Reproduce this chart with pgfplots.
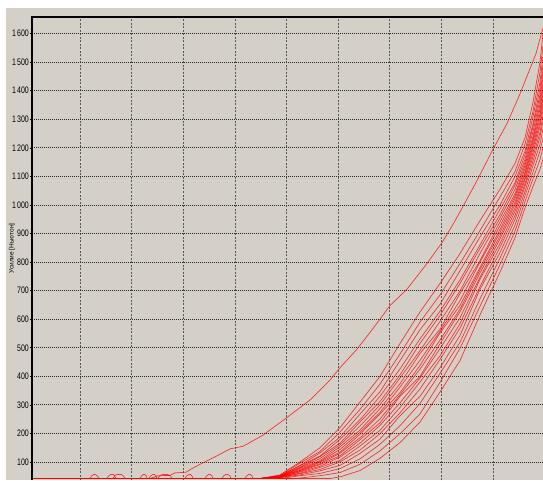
\documentclass[border=0pt]{standalone}
\usepackage{fontspec}
\setmainfont{Liberation Sans}
\usepackage{graphicx}
\usepackage{pgfplots}
\pgfplotsset{compat=1.18}
\definecolor{bg}{HTML}{D4D0C8}
\newcommand{\tl}[1]{\scalebox{1}[1.35]{#1}}
\pgfplotsset{crv/.style={draw=red, solid, line width=0.7pt, opacity=0.75, line join=round, mark=none}}
\begin{document}
\begin{tikzpicture}
\fill[white] (0,0) rectangle (543pt,480pt);
\fill[bg] (6pt,0) rectangle (543pt,472pt);
\path[use as bounding box] (0,0) rectangle (543pt,480pt);
\begin{axis}[
  name=ax,
  at={(32pt,0pt)}, anchor=south west,
  scale only axis, width=511pt, height=463pt,
  xmin=32, xmax=543, ymin=37, ymax=1658,
  axis line style={draw=none},
  xtick={80,131.6,183.3,234.9,286.5,338.1,389.8,441.4,493},
  xticklabels={},
  xtick style={draw=none},
  ytick={100,200,300,400,500,600,700,800,900,1000,1100,1200,1300,1400,1500,1600},
  yticklabels={\tl{100},\tl{200},\tl{300},\tl{400},\tl{500},\tl{600},\tl{700},\tl{800},\tl{900},\tl{1\,000},\tl{1\,100},\tl{1\,200},\tl{1\,300},\tl{1\,400},\tl{1\,500},\tl{1\,600}},
  ytick pos=left,
  ytick style={black, line width=0.6pt},
  tick align=outside, major tick length=2pt,
  yticklabel style={font=\fontsize{7}{8}\selectfont, inner sep=1pt},
  xmajorgrids, ymajorgrids,
  x grid style={black!65, line width=0.8pt, dash pattern=on 2pt off 1.5pt},
  y grid style={black!85, line width=0.8pt, dash pattern=on 1pt off 1pt},
  ylabel={Усилие [Ньютон]},
  ylabel style={at={(axis description cs:-0.0391,0.5)}, anchor=center, font=\fontsize{6.5}{7}\selectfont},
]
% outlier
\addplot[crv] coordinates {(32,42)(150,42)(158,52)(170,53)(175,62)(186,64)(190,73)(200,92)(215,118)(230,146)(243,155)(263,194)(287,256)(310,317)(330,387)(340,430)(357,495)(367,540)(380,600)(390,648)(407,705)(427,795)(442,868)(453,932)(463,995)(477,1085)(493,1195)(507,1285)(520,1389)(536,1530)(543,1620)};
% bundle
\addplot[crv] coordinates {(32,42)(90,42)(91.5,51)(93.5,56)(95.5,56)(97.5,51)(99,42)(260,42)(280,55)(300,100)(320,150)(340,220)(360,310)(380,400)(400,515)(420,625)(440,725)(460,830)(480,945)(500,1055)(515,1145)(525,1235)(533,1360)(540,1500)(543,1600)};
\addplot[crv] coordinates {(32,42)(107,42)(108.5,51)(110.5,56)(113.5,56)(114.5,51)(116,42)(260,42)(280,53)(300,96)(320,137)(340,205)(360,284)(380,373)(400,478)(420,590)(440,685)(460,795)(480,910)(500,1028)(515,1117)(525,1213)(533,1328)(540,1465)(543,1556)};
\addplot[crv] coordinates {(32,42)(113,42)(114.5,51)(116.5,56)(121.5,56)(123.5,51)(125,42)(260,42)(280,52)(300,88)(320,132)(340,187)(360,268)(380,346)(400,455)(420,563)(440,652)(460,770)(480,888)(500,1000)(515,1100)(525,1188)(533,1309)(540,1430)(543,1521)};
\addplot[crv] coordinates {(32,42)(140,42)(141.5,51)(143,56)(145,56)(146.5,51)(147,42)(260,42)(280,51)(300,87)(320,121)(340,179)(360,248)(380,330)(400,426)(420,531)(440,628)(460,738)(480,860)(500,985)(515,1078)(525,1176)(533,1284)(540,1408)(543,1490)};
\addplot[crv] coordinates {(32,42)(149,42)(150.5,51)(152.5,56)(154.5,56)(156,51)(157,42)(260,42)(280,50)(300,82)(320,119)(340,166)(360,240)(380,312)(400,405)(420,515)(440,613)(460,725)(480,848)(500,966)(515,1069)(525,1160)(533,1274)(540,1386)(543,1468)};
\addplot[crv] coordinates {(32,42)(158,42)(159.5,51)(162,56)(168,56)(170.5,51)(172,42)(260,42)(280,50)(300,80)(320,112)(340,160)(360,226)(380,300)(400,394)(420,490)(440,592)(460,699)(480,830)(500,954)(515,1054)(525,1149)(533,1257)(540,1369)(543,1446)};
\addplot[crv] coordinates {(32,42)(185,42)(186.5,51)(188.5,56)(190.5,56)(192,51)(193,42)(260,42)(280,49)(300,78)(320,105)(340,153)(360,212)(380,287)(400,374)(420,480)(440,565)(460,690)(480,805)(500,941)(515,1039)(525,1139)(533,1240)(540,1352)(543,1424)};
\addplot[crv] coordinates {(32,42)(205,42)(206.5,51)(208.5,56)(210.5,56)(212,51)(213,42)(260,42)(280,49)(300,74)(320,102)(340,144)(360,204)(380,274)(400,362)(420,456)(440,558)(460,665)(480,800)(500,927)(515,1031)(525,1127)(533,1230)(540,1335)(543,1406)};
\addplot[crv] coordinates {(32,42)(222,42)(223.5,51)(225.5,56)(228,56)(230,51)(231,42)(260,42)(280,48)(300,71)(320,99)(340,135)(360,197)(380,268)(400,343)(420,438)(440,552)(460,648)(480,781)(500,914)(515,1022)(525,1115)(533,1220)(540,1318)(543,1389)};
\addplot[crv] coordinates {(32,42)(245,42)(246.5,51)(248.5,56)(250.5,56)(252,51)(253,42)(260,42)(280,48)(300,70)(320,94)(340,131)(360,185)(380,251)(400,335)(420,425)(440,527)(460,635)(480,773)(500,904)(515,1010)(525,1108)(533,1207)(540,1305)(543,1371)};
\addplot[crv] coordinates {(32,42)(260,42)(280,47)(300,67)(320,91)(340,122)(360,178)(380,237)(400,330)(420,400)(440,514)(460,626)(480,762)(500,891)(515,1001)(525,1096)(533,1197)(540,1288)(543,1354)};
\addplot[crv] coordinates {(32,42)(260,42)(280,47)(300,65)(320,85)(340,117)(360,166)(380,228)(400,307)(420,394)(440,497)(460,605)(480,747)(500,881)(515,989)(525,1088)(533,1183)(540,1275)(543,1336)};
\addplot[crv] coordinates {(32,42)(260,42)(280,46)(300,61)(320,81)(340,106)(360,156)(380,211)(400,291)(420,380)(440,472)(460,584)(480,740)(500,865)(515,978)(525,1074)(533,1170)(540,1254)(543,1314)};
\addplot[crv] coordinates {(32,42)(265,42)(280,46)(300,59)(320,74)(340,100)(360,142)(380,199)(400,272)(420,356)(440,459)(460,568)(480,714)(500,852)(515,963)(525,1064)(533,1154)(540,1238)(543,1292)};
\addplot[crv] coordinates {(32,42)(270,42)(280,45)(300,55)(320,69)(340,88)(360,130)(380,180)(400,262)(420,330)(440,430)(460,543)(480,705)(500,833)(515,949)(525,1047)(533,1138)(540,1213)(543,1266)};
\addplot[crv] coordinates {(32,42)(280,42)(300,52)(320,60)(340,77)(360,111)(380,162)(400,227)(420,305)(440,410)(460,519)(480,671)(500,814)(515,929)(525,1032)(533,1115)(540,1189)(543,1235)};
\addplot[crv] coordinates {(32,42)(295,42)(310,48)(320,52)(340,63)(360,92)(380,139)(400,199)(420,268)(440,379)(460,498)(480,645)(500,791)(515,908)(525,1012)(533,1092)(540,1159)(543,1200)};
\addplot[crv] coordinates {(32,42)(330,42)(340,48)(360,70)(380,113)(400,168)(420,240)(440,345)(460,455)(480,615)(500,765)(515,885)(525,990)(533,1065)(540,1125)(543,1160)};
\end{axis}
\draw[black, line width=1.3pt] (ax.south west) -- (ax.north west) -- (ax.north east);
\end{tikzpicture}
\end{document}
